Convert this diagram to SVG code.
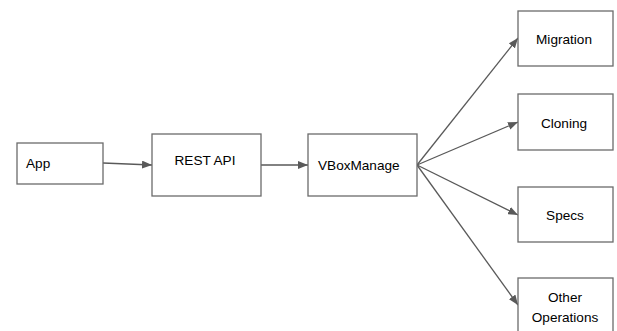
<svg xmlns="http://www.w3.org/2000/svg" width="617" height="331" viewBox="0 0 617 331">
<style>
.box{fill:#fff;stroke:#6b6b6b;stroke-width:1.3}
.lbl{font-family:"Liberation Sans",Arial,sans-serif;font-size:13.6px;fill:#000}
.edge{stroke:#595959;stroke-width:1.3;fill:none;marker-end:url(#ah)}
</style>
<defs>
<marker id="ah" markerWidth="10" markerHeight="8" refX="10" refY="4" orient="auto" markerUnits="userSpaceOnUse">
<path d="M0,0 L10,4 L0,8 Z" fill="#595959"/>
</marker>
</defs>
<rect width="617" height="331" fill="#fff"/>
<g id="connectors">
<line class="edge" x1="103" y1="163" x2="152" y2="165"/>
<line class="edge" x1="261" y1="165" x2="308" y2="165"/>
<line class="edge" x1="417" y1="165" x2="518" y2="38"/>
<line class="edge" x1="417" y1="165" x2="518" y2="122"/>
<line class="edge" x1="417" y1="165" x2="518" y2="215"/>
<line class="edge" x1="417" y1="165" x2="518" y2="305"/>
</g>
<g id="app"><rect class="box" x="17" y="143" width="86" height="41"/><text class="lbl" x="26" y="168">App</text></g>
<g id="rest"><rect class="box" x="152" y="134" width="109" height="62"/><text class="lbl" x="205" y="165" text-anchor="middle">REST API</text></g>
<g id="vbox"><rect class="box" x="308" y="134" width="109" height="62"/><text class="lbl" x="318" y="170">VBoxManage</text></g>
<g id="migration"><rect class="box" x="518" y="11" width="95" height="55"/><text class="lbl" x="564" y="44" text-anchor="middle">Migration</text></g>
<g id="cloning"><rect class="box" x="518" y="94" width="95" height="56"/><text class="lbl" x="564" y="128" text-anchor="middle">Cloning</text></g>
<g id="specs"><rect class="box" x="518" y="187" width="95" height="55"/><text class="lbl" x="565" y="220" text-anchor="middle">Specs</text></g>
<g id="other"><rect class="box" x="518" y="278" width="95" height="60"/><text class="lbl" x="565" y="302" text-anchor="middle">Other</text><text class="lbl" x="565" y="322" text-anchor="middle">Operations</text></g>
</svg>
